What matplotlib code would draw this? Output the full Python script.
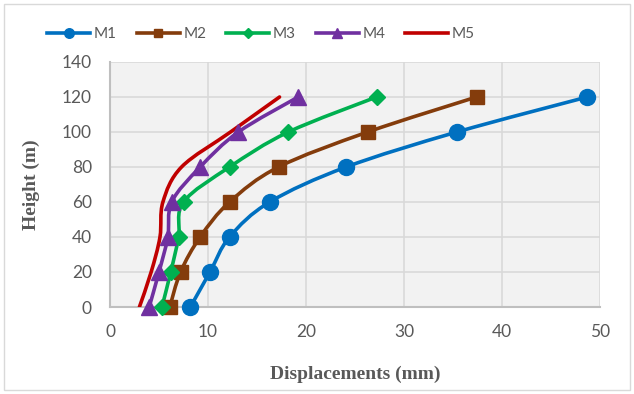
import matplotlib.pyplot as plt
from matplotlib.lines import Line2D
from matplotlib.patches import PathPatch, Rectangle
from matplotlib.path import Path
import numpy as np

heights = [0, 20, 40, 60, 80, 100, 120]
m1 = [8.2, 10.2, 12.2, 16.3, 24.1, 35.4, 48.7]
m2 = [6.1, 7.2, 9.2, 12.2, 17.2, 26.3, 37.4]
m3 = [5.3, 6.2, 7.0, 7.5, 12.2, 18.2, 27.2]
m4 = [4.0, 5.0, 5.9, 6.3, 9.2, 13.1, 19.2]
m5 = [3.0, 4.2, 5.1, 5.4, 7.3, 12.3, 17.3]

names = ['M1', 'M2', 'M3', 'M4', 'M5']
series = [m1, m2, m3, m4, m5]
colors = ['#0070C0', '#843C0C', '#00B050', '#7030A0', '#C00000']
markers = ['o', 's', 'D', '^', None]
msizes = [11.5, 10.5, 8.5, 11, 0]

grey_txt = '#595959'


def smooth_path(x, y):
    # Excel-style smoothed line: Catmull-Rom segments as cubic Beziers
    p = np.column_stack([x, y]).astype(float)
    verts = [p[0]]
    codes = [Path.MOVETO]
    n = len(p)
    for i in range(n - 1):
        p0 = p[i - 1] if i > 0 else p[i]
        p1 = p[i]
        p2 = p[i + 1]
        p3 = p[i + 2] if i + 2 < n else p[i + 1]
        c1 = p1 + (p2 - p0) / 6.0
        c2 = p2 - (p3 - p1) / 6.0
        verts += [c1, c2, p2]
        codes += [Path.CURVE4] * 3
    return Path(verts, codes)


fig = plt.figure(figsize=(6.34, 3.94), dpi=100)
fig.patches.append(Rectangle((0.006, 0.01), 0.988, 0.98, transform=fig.transFigure,
                             fill=False, edgecolor='#D9D9D9', linewidth=1))
ax = fig.add_axes([110 / 634, 1 - 307 / 394, 490 / 634, 245 / 394])
ax.set_facecolor('#F2F2F2')

handles = []
for name, xs, c, mk, ms in zip(names, series, colors, markers, msizes):
    ax.add_patch(PathPatch(smooth_path(xs, heights), facecolor='none', edgecolor=c,
                           linewidth=2.6, capstyle='round', zorder=3))
    if mk:
        ax.plot(xs, heights, linestyle='none', marker=mk, markersize=ms, color=c, zorder=4,
                clip_on=False)
    handles.append(Line2D([], [], color=c, linewidth=2.6, marker=mk, markersize=ms * 0.6,
                          label=name))

ax.set_xlim(0, 50)
ax.set_ylim(0, 140)
ax.set_xticks(range(0, 51, 10))
ax.set_yticks(range(0, 141, 20))
ax.grid(True, color='#D9D9D9', linewidth=1.2)
ax.set_axisbelow(True)
for s in ['top', 'right']:
    ax.spines[s].set_visible(False)
for s in ['left', 'bottom']:
    ax.spines[s].set_color('#BFBFBF')
    ax.spines[s].set_linewidth(1.5)
ax.tick_params(length=0, labelsize=12.5, labelcolor=grey_txt)
ax.tick_params(axis='y', pad=13)
ax.tick_params(axis='x', pad=12)
for lab in ax.get_xticklabels() + ax.get_yticklabels():
    lab.set_family('Lato')

ax.set_xlabel('Displacements (mm)', family='Liberation Serif', fontweight='bold',
              fontsize=14, color=grey_txt, labelpad=19)
ax.set_ylabel('Height (m)', family='Liberation Serif', fontweight='bold',
              fontsize=14, color=grey_txt, labelpad=16)

fig.legend(handles=handles, loc='center', bbox_to_anchor=(0.412, 1 - 34 / 394), ncol=5,
           frameon=False, handlelength=2.8, columnspacing=1.3, handletextpad=0.25,
           prop={'family': 'Lato', 'size': 11}, labelcolor=grey_txt)

fig.savefig('out.png', dpi=100)
